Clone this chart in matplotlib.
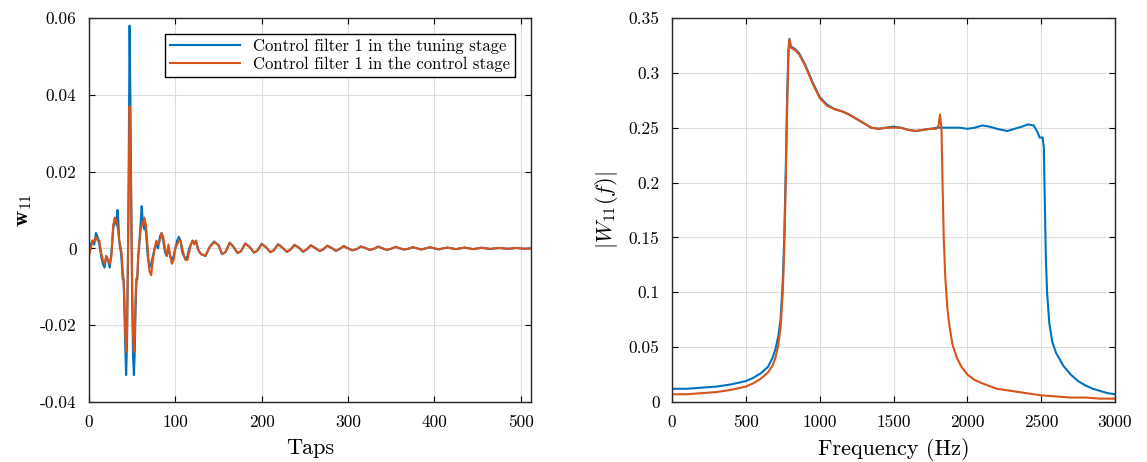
import matplotlib
matplotlib.use("Agg")
import matplotlib.pyplot as plt
from matplotlib.ticker import FuncFormatter

plt.rcParams["font.family"] = ["cmr10", "DejaVu Serif"]
plt.rcParams["mathtext.fontset"] = "cm"
plt.rcParams["axes.unicode_minus"] = False
plt.rcParams["axes.formatter.use_mathtext"] = False

# ---- left panel: filter coefficients ----
taps = [0, 2, 4, 6, 8, 10, 12, 14, 16, 18, 20, 22, 24, 26, 28, 30, 32, 33, 34, 35,
        36, 37, 38, 39, 40, 41, 42, 43, 44, 45, 46, 47, 48, 49, 50, 51, 52, 53, 54, 55,
        56, 57, 58, 59, 60, 61, 62, 63, 64, 65, 66, 68, 70, 72, 74, 76, 78, 80, 82, 84,
        86, 88, 90, 92, 94, 96, 98, 100, 102, 104, 106, 108, 110, 112, 114, 116, 118, 120, 122, 124,
        126, 128, 130, 135, 140, 145, 150, 154, 158, 163, 167, 172, 176, 181, 186, 191, 195, 200, 205, 210,
        214, 219, 224, 229, 233, 238, 243, 248, 252, 257, 262, 267, 271, 276, 281, 286, 290, 295, 300, 305,
        310, 315, 320, 325, 330, 335, 340, 345, 350, 355, 360, 365, 370, 375, 380, 385, 390, 395, 400, 405,
        410, 415, 420, 425, 430, 435, 440, 445, 450, 455, 460, 465, 470, 475, 480, 485, 490, 495, 500, 505,
        511]

w_tuning = [-0.001, 0.001, 0.002, 0.001, 0.004, 0.003, 0.001, -0.002, -0.004, -0.005, -0.002, -0.003, -0.005, -0.001, 0.005, 0.008, 0.006, 0.010, 0.007, 0.002,
            0.000, -0.001, -0.004, -0.008, -0.008, -0.016, -0.026, -0.033, -0.025, -0.006, 0.022, 0.058, 0.038, 0.010, -0.014, -0.028, -0.033, -0.027, -0.015, -0.008,
            -0.008, -0.002, 0.000, 0.004, 0.007, 0.011, 0.008, 0.006, 0.005, 0.006, 0.004, -0.002, -0.005, -0.004, -0.002, 0.000, 0.001, 0.000, 0.003, 0.004,
            0.002, -0.001, -0.002, 0.000, -0.002, -0.003, -0.002, 0.000, 0.002, 0.003, 0.002, -0.001, -0.002, -0.003, -0.002, 0.000, 0.001, 0.002, 0.0015, 0.002,
            0.000, -0.001, -0.0015, -0.002, 0.0005, 0.0018, 0.0008, -0.0015, -0.001, 0.0015, 0.0005, -0.0012, -0.0008, 0.0013, 0.0004, -0.0011, -0.0006, 0.0012, 0.0003, -0.0010,
            -0.0005, 0.0011, 0.0002, -0.0009, -0.0004, 0.0009, 0.0002, -0.0009, -0.0003, 0.0008, 0.0001, -0.0007, -0.0003, 0.0007, 0.0001, -0.0007, -0.0002, 0.0006, 0.0000, -0.0005,
            -0.0002, 0.0005, 0.0001, -0.0004, -0.0001, 0.0005, 0.0000, -0.0004, -0.0001, 0.0004, 0.0000, -0.0003, -0.0001, 0.0003, 0.0000, -0.0003, 0.0000, 0.0003, 0.0000, -0.0003,
            0.0000, 0.0002, 0.0000, -0.0002, 0.0000, 0.0002, 0.0000, -0.0002, 0.0000, 0.0002, 0.0000, -0.0002, 0.0000, 0.0001, 0.0000, -0.0001, 0.0000, 0.0001, 0.0000, -0.0001,
            0.0000]

w_control = [-0.002, 0.000, 0.002, 0.002, 0.003, 0.002, 0.002, -0.001, -0.003, -0.004, -0.002, -0.003, -0.004, -0.002, 0.006, 0.008, 0.007, 0.006, 0.004, 0.002,
             0.001, 0.000, -0.002, -0.006, -0.008, -0.013, -0.022, -0.027, -0.022, -0.004, 0.014, 0.037, 0.028, 0.008, -0.010, -0.022, -0.027, -0.022, -0.012, -0.008,
             -0.007, -0.002, 0.001, 0.003, 0.005, 0.006, 0.007, 0.006, 0.008, 0.007, 0.006, 0.000, -0.006, -0.007, -0.003, 0.000, 0.002, 0.001, 0.002, 0.004,
             0.003, 0.000, -0.002, 0.001, -0.002, -0.004, -0.003, 0.000, 0.001, 0.002, 0.002, 0.000, -0.002, -0.003, -0.003, -0.001, 0.001, 0.002, 0.001, 0.002,
             0.000, -0.001, -0.0016, -0.0018, 0.0004, 0.0016, 0.0008, -0.0014, -0.001, 0.0014, 0.0005, -0.0012, -0.0007, 0.0012, 0.0004, -0.0011, -0.0006, 0.0011, 0.0003, -0.0010,
             -0.0005, 0.0010, 0.0002, -0.0009, -0.0004, 0.0009, 0.0002, -0.0008, -0.0003, 0.0008, 0.0001, -0.0007, -0.0003, 0.0007, 0.0001, -0.0006, -0.0002, 0.0006, 0.0000, -0.0005,
             -0.0002, 0.0005, 0.0001, -0.0004, -0.0001, 0.0004, 0.0000, -0.0004, -0.0001, 0.0004, 0.0000, -0.0003, -0.0001, 0.0003, 0.0000, -0.0003, 0.0000, 0.0003, 0.0000, -0.0002,
             0.0000, 0.0002, 0.0000, -0.0002, 0.0000, 0.0002, 0.0000, -0.0002, 0.0000, 0.0001, 0.0000, -0.0001, 0.0000, 0.0001, 0.0000, -0.0001, 0.0000, 0.0001, 0.0000, -0.0001,
             0.0000]

# ---- right panel: magnitude responses ----
freq_tuning = [0, 100, 200, 300, 400, 500, 550, 600, 650, 680, 700, 720, 735, 750, 760, 770, 780, 788, 795, 805,
               830, 860, 900, 950, 1000, 1050, 1100, 1150, 1200, 1250, 1300, 1350, 1400, 1450, 1500, 1550, 1600, 1650, 1700, 1750,
               1800, 1850, 1900, 1950, 2000, 2050, 2100, 2150, 2200, 2270, 2320, 2370, 2410, 2450, 2475, 2490, 2510, 2518, 2525, 2532,
               2540, 2555, 2575, 2600, 2650, 2700, 2750, 2800, 2850, 2900, 2950, 3000]
mag_tuning = [0.012, 0.012, 0.013, 0.014, 0.016, 0.019, 0.022, 0.026, 0.032, 0.040, 0.048, 0.060, 0.075, 0.110, 0.150, 0.210, 0.280, 0.320, 0.331, 0.324,
              0.322, 0.318, 0.308, 0.292, 0.278, 0.271, 0.267, 0.265, 0.262, 0.258, 0.254, 0.250, 0.249, 0.250, 0.251, 0.250, 0.248, 0.247, 0.248, 0.249,
              0.250, 0.250, 0.250, 0.250, 0.249, 0.250, 0.252, 0.251, 0.249, 0.247, 0.249, 0.251, 0.253, 0.252, 0.246, 0.241, 0.241, 0.232, 0.180, 0.130,
              0.100, 0.072, 0.055, 0.045, 0.033, 0.025, 0.019, 0.015, 0.012, 0.010, 0.008, 0.007]

freq_control = [0, 100, 200, 300, 400, 500, 550, 600, 650, 680, 700, 720, 735, 750, 760, 770, 780, 788, 795, 805,
                830, 860, 900, 950, 1000, 1050, 1100, 1150, 1200, 1250, 1300, 1350, 1400, 1450, 1500, 1550, 1600, 1650, 1700, 1750,
                1790, 1805, 1815, 1825, 1832, 1840, 1850, 1865, 1880, 1900, 1930, 1960, 2000, 2050, 2100, 2200, 2300, 2400, 2500, 2600,
                2700, 2800, 2900, 3000]
mag_control = [0.007, 0.007, 0.008, 0.009, 0.011, 0.014, 0.017, 0.021, 0.027, 0.033, 0.040, 0.052, 0.068, 0.100, 0.140, 0.200, 0.270, 0.315, 0.330, 0.323,
               0.321, 0.317, 0.307, 0.291, 0.277, 0.270, 0.267, 0.265, 0.262, 0.258, 0.254, 0.250, 0.249, 0.250, 0.250, 0.250, 0.248, 0.247, 0.248, 0.249,
               0.249, 0.252, 0.262, 0.248, 0.200, 0.150, 0.115, 0.085, 0.068, 0.052, 0.040, 0.032, 0.025, 0.020, 0.017, 0.012, 0.010, 0.008, 0.006, 0.005,
               0.004, 0.004, 0.003, 0.003]

blue = "#0072BD"
orange = "#D95319"


def fmt(v, pos):
    return f"{v:g}"


def style_axes(ax):
    ax.grid(True, color="#dcdcdc", linewidth=0.8)
    ax.set_axisbelow(True)
    ax.tick_params(direction="in", top=True, right=True, labelsize=12.5, length=4, width=0.8)
    ax.tick_params(axis="y", pad=9)
    ax.tick_params(axis="x", pad=9)
    for s in ax.spines.values():
        s.set_linewidth(1.0)
        s.set_color("#262626")
    ax.yaxis.set_major_formatter(FuncFormatter(fmt))
    ax.xaxis.set_major_formatter(FuncFormatter(fmt))


fig = plt.figure(figsize=(11.47, 4.62), dpi=100)
ax1 = fig.add_axes([0.0776, 0.130, 0.3854, 0.831])
ax2 = fig.add_axes([0.5859, 0.130, 0.3862, 0.831])

ax1.plot(taps, w_tuning, color=blue, linewidth=1.5, label="Control filter 1 in the tuning stage")
ax1.plot(taps, w_control, color=orange, linewidth=1.5, label="Control filter 1 in the control stage")
ax1.set_xlim(0, 512)
ax1.set_ylim(-0.04, 0.06)
ax1.set_xticks([0, 100, 200, 300, 400, 500])
ax1.set_yticks([-0.04, -0.02, 0, 0.02, 0.04, 0.06])
style_axes(ax1)
ax1.set_xlabel("Taps", fontsize=16, labelpad=6)
ax1.set_ylabel(r"$\mathbf{w}_{11}$", fontsize=16, labelpad=4)
leg = ax1.legend(loc="upper right", bbox_to_anchor=(0.964, 0.959), fontsize=12, fancybox=False,
                 edgecolor="black", framealpha=1, borderaxespad=0, handlelength=4.2,
                 borderpad=0.3, labelspacing=0.15)
leg.get_frame().set_linewidth(1.0)

ax2.plot(freq_tuning, mag_tuning, color=blue, linewidth=1.5)
ax2.plot(freq_control, mag_control, color=orange, linewidth=1.5)
ax2.set_xlim(0, 3000)
ax2.set_ylim(0, 0.35)
ax2.set_xticks([0, 500, 1000, 1500, 2000, 2500, 3000])
ax2.set_yticks([0, 0.05, 0.1, 0.15, 0.2, 0.25, 0.3, 0.35])
style_axes(ax2)
ax2.set_xlabel("Frequency (Hz)", fontsize=16, labelpad=6)
ax2.set_ylabel(r"$|W_{11}(f)|$", fontsize=16, labelpad=6)

fig.savefig("out.png", dpi=100)
